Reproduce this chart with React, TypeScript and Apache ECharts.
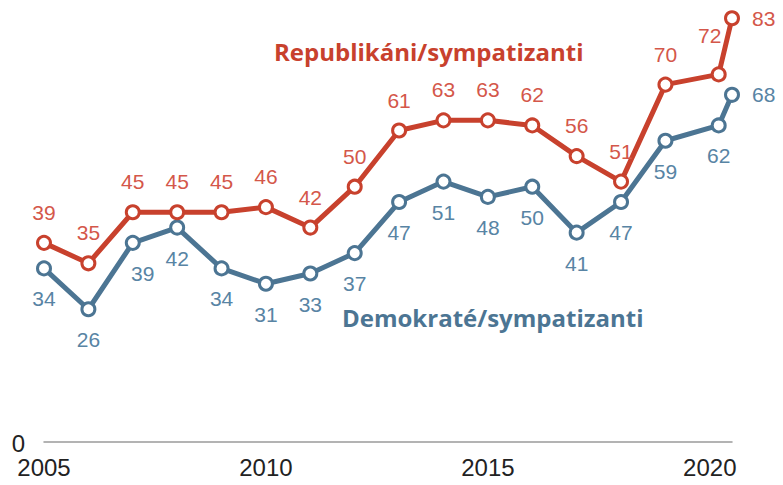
import React, { useEffect, useRef } from "react";
import * as echarts from "echarts";

const years = [2005, 2006, 2007, 2008, 2009, 2010, 2011, 2012, 2013, 2014, 2015, 2016, 2017, 2018, 2019, 2020.2, 2020.5];
const republicans = [39, 35, 45, 45, 45, 46, 42, 50, 61, 63, 63, 62, 56, 51, 70, 72, 83];
const democrats = [34, 26, 39, 42, 34, 31, 33, 37, 47, 51, 48, 50, 41, 47, 59, 62, 68];
const xTicks = [2005, 2010, 2015, 2020];
const yTicks = [0];
const repName = "Republikáni/sympatizanti";
const demName = "Demokraté/sympatizanti";

const RED = "#C8412D";
const RED_LABEL = "#D4574A";
const BLUE = "#4C7593";
const BLUE_LABEL = "#5884A4";

export default function App() {
  const ref = useRef<HTMLDivElement>(null);
  useEffect(() => {
    if (!ref.current) return;
    const chart = echarts.init(ref.current, undefined, { renderer: "svg" });
    const labelFont = { fontFamily: "Liberation Sans", fontSize: 21 };
    const repData = years.map((x, i) => {
      const d: any = { value: [x, republicans[i]] };
      if (i === years.length - 1) {
        d.label = { position: "right", distance: 12 };
      } else if (i === years.length - 2) {
        d.label = { position: "top", offset: [-9, -8] };
      }
      return d;
    });
    const demData = years.map((x, i) => {
      const d: any = { value: [x, democrats[i]] };
      if (i === years.length - 1) {
        d.label = { position: "right", distance: 12 };
      } else if (i === 2) {
        d.label = { position: "bottom", offset: [10, 0] };
      }
      return d;
    });
    chart.setOption({
      animation: false,
      grid: { left: 44, right: 51, top: 8, bottom: 43, outerBoundsMode: "none" },
      xAxis: {
        type: "value",
        min: 2005,
        max: 2020.5,
        interval: 5,
        axisLine: { show: true, lineStyle: { color: "#9a9a9a", width: 1.5 } },
        axisTick: { show: false },
        splitLine: { show: false },
        axisLabel: {
          margin: 13,
          color: "#222",
          fontFamily: "Liberation Sans",
          fontSize: 24,
          formatter: (v: number) => (xTicks.includes(v) ? String(v) : ""),
        },
      },
      yAxis: {
        type: "value",
        min: 0,
        max: 85,
        interval: 85,
        axisLine: { show: false },
        axisTick: { show: false },
        splitLine: { show: false },
        axisLabel: { show: false },
      },
      series: [
        {
          type: "line",
          name: demName,
          data: demData,
          symbol: "circle",
          symbolSize: 13,
          lineStyle: { color: BLUE, width: 5 },
          itemStyle: { color: "#fff", borderColor: BLUE, borderWidth: 3 },
          label: { show: true, position: "bottom", distance: 12, color: BLUE_LABEL, ...labelFont },
          z: 2,
        },
        {
          type: "line",
          name: repName,
          data: repData,
          symbol: "circle",
          symbolSize: 13,
          lineStyle: { color: RED, width: 5 },
          itemStyle: { color: "#fff", borderColor: RED, borderWidth: 3 },
          label: { show: true, position: "top", distance: 12, color: RED_LABEL, ...labelFont },
          z: 3,
        },
      ],
    });
    const yLabels = yTicks.map((v) => {
      const p = chart.convertToPixel({ xAxisIndex: 0, yAxisIndex: 0 }, [2005, v]) as number[];
      return {
        type: "text",
        x: p[0] - 19,
        y: p[1] + 1,
        style: {
          text: String(v),
          fill: "#222",
          font: "24px 'Liberation Sans'",
          align: "right",
          verticalAlign: "middle",
        },
      };
    });
    chart.setOption({
      graphic: [
        ...yLabels,
        {
          type: "text",
          left: 274,
          top: 39,
          style: { text: repName, fill: RED, font: "bold 24px 'Open Sans'" },
        },
        {
          type: "text",
          left: 342,
          top: 305,
          style: { text: demName, fill: BLUE, font: "bold 24px 'Open Sans'" },
        },
      ],
    });
    return () => chart.dispose();
  }, []);
  return (
    <div
      ref={ref}
      style={{ position: "absolute", left: 0, top: 0, width: 783, height: 485 }}
    />
  );
}
